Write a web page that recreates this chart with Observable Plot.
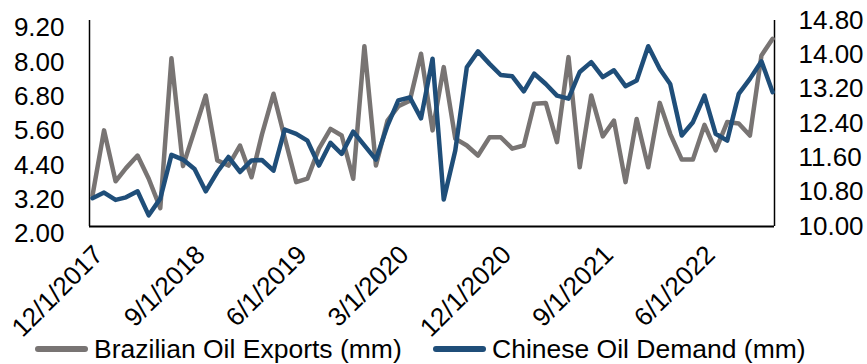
<!DOCTYPE html>
<html>
<head>
<meta charset="utf-8">
<script src="https://cdn.jsdelivr.net/npm/d3@7"></script>
<script src="https://cdn.jsdelivr.net/npm/@observablehq/plot@0.6"></script>
<style>
  html, body { margin: 0; padding: 0; background: #fff; }
  body { width: 867px; height: 364px; overflow: hidden; font-family: "Liberation Sans", Arial, sans-serif; }
  #chart svg { overflow: visible; display: block; }
  #legend { position: relative; height: 24px; margin-top: -6px; }
  .item { position: absolute; top: 0; display: flex; align-items: center; font-size: 26.5px; color: #000; white-space: nowrap; line-height: 30px; }
  .sw { display: inline-block; width: 53px; height: 6px; border-radius: 3px; margin-right: 6px; }
</style>
</head>
<body>
<div id="chart"></div>
<div id="legend"></div>
<script>
// ---- data ----
const startMonth = "2017-12-01";
const endMonth = "2022-12-01";
const seriesNames = ["Brazilian Oil Exports (mm)", "Chinese Oil Demand (mm)"];
const seriesColors = ["#787473", "#1F4E79"];
const brazilExports = [3.08,5.36,3.58,4.04,4.48,3.67,2.64,7.88,4.11,5.36,
  6.58,4.31,4.13,4.83,3.72,5.22,6.64,5.10,3.55,3.67,
  4.72,5.41,5.18,3.67,8.30,4.13,5.70,6.20,6.40,8.04,
  5.36,7.57,5.07,4.83,4.48,5.12,5.12,4.72,4.83,6.29,
  6.32,4.95,7.92,4.07,6.58,5.15,5.70,3.55,5.76,4.07,
  6.32,5.24,4.34,4.34,5.55,4.66,5.65,5.60,5.18,7.98,
  8.56];
const chinaDemand = [10.66,10.79,10.62,10.68,10.82,10.26,10.65,11.67,11.56,11.34,
  10.82,11.27,11.62,11.27,11.54,11.55,11.30,12.26,12.16,12.00,
  11.42,11.95,11.69,12.21,11.89,11.56,12.35,12.94,13.01,12.52,
  13.91,10.63,11.77,13.71,14.08,13.79,13.53,13.50,13.15,13.56,
  13.32,13.05,12.98,13.60,13.83,13.48,13.64,13.27,13.40,14.20,
  13.67,13.32,12.12,12.43,13.05,12.16,12.00,13.09,13.44,13.85,
  13.13];
const xTickLabels = ["12/1/2017","9/1/2018","6/1/2019","3/1/2020","12/1/2020","9/1/2021","6/1/2022"];
const leftTicks = [2.00,3.20,4.40,5.60,6.80,8.00,9.20];
const rightTicks = [10.00,10.80,11.60,12.40,13.20,14.00,14.80];

// ---- build ----
const months = d3.utcMonth.range(new Date(startMonth), d3.utcDay.offset(new Date(endMonth), 1));
const parseTick = d3.utcParse("%m/%d/%Y");
const xTicks = xTickLabels.map(s => parseTick(s));
const fmtTick = d3.utcFormat("%-m/%-d/%Y");
const xDomain = [new Date("2017-11-23"), new Date("2022-12-06")];

// right axis mapped onto left scale
const leftDomain = [leftTicks[0], leftTicks[leftTicks.length - 1]];
const rightDomain = [rightTicks[0], rightTicks[rightTicks.length - 1]];
const r2l = d3.scaleLinear().domain(rightDomain).range(leftDomain);

const rowsB = months.map((d, i) => ({date: d, v: brazilExports[i]}));
const rowsC = months.map((d, i) => ({date: d, v: r2l(chinaDemand[i])}));

const chart = Plot.plot({
  width: 867,
  height: 340,
  marginLeft: 89,
  marginRight: 93,
  marginTop: 20,
  marginBottom: 114,
  style: {fontFamily: "Liberation Sans, Arial, sans-serif", fontSize: "26px", color: "#000", background: "#fff", overflow: "visible"},
  x: {type: "utc", domain: xDomain},
  y: {domain: leftDomain},
  marks: [
    Plot.axisY({ticks: leftTicks, tickFormat: d => d.toFixed(2), tickSize: 0, tickPadding: 25, dy: 7.5, label: null, anchor: "left"}),
    Plot.axisY({ticks: rightTicks.map(r2l), tickFormat: d => r2l.invert(d).toFixed(2), tickSize: 0, tickPadding: 24, label: null, anchor: "right"}),
    Plot.axisX({ticks: xTicks, tickFormat: fmtTick, tickRotate: -45, tickSize: 0, tickPadding: 24, dx: 6, label: null}),
    Plot.ruleX([xDomain[0]], {stroke: "#000", strokeWidth: 1.5}),
    Plot.ruleX([xDomain[1]], {stroke: "#000", strokeWidth: 1.5}),
    Plot.ruleY([leftDomain[0]], {stroke: "#000", strokeWidth: 2}),
    Plot.lineY(rowsB, {x: "date", y: "v", stroke: seriesColors[0], strokeWidth: 4.5, strokeLinejoin: "round", strokeLinecap: "round"}),
    Plot.lineY(rowsC, {x: "date", y: "v", stroke: seriesColors[1], strokeWidth: 4.5, strokeLinejoin: "round", strokeLinecap: "round"})
  ]
});
document.getElementById("chart").appendChild(chart);

const legend = document.getElementById("legend");
const lefts = [35, 433];
seriesNames.forEach((name, i) => {
  const it = document.createElement("div");
  it.className = "item";
  it.style.left = lefts[i] + "px";
  it.innerHTML = `<span class="sw" style="background:${seriesColors[i]}"></span><span>${name}</span>`;
  legend.appendChild(it);
});
</script>
</body>
</html>
